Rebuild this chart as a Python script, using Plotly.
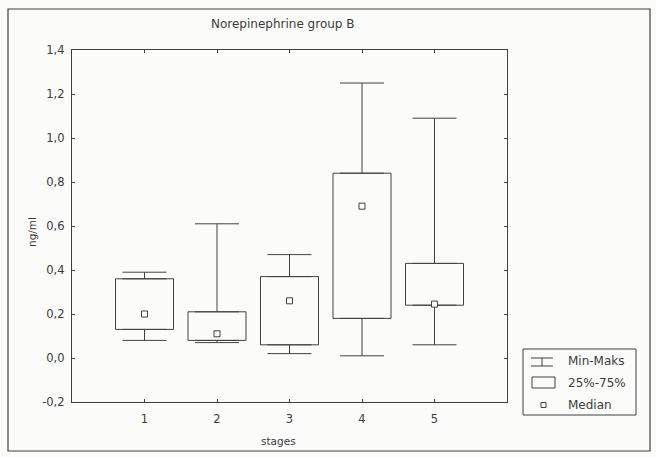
import plotly.graph_objects as go

# ---- data ----
stages = [1, 2, 3, 4, 5]
min_vals = [0.08, 0.07, 0.02, 0.01, 0.06]
q1_vals = [0.13, 0.08, 0.06, 0.18, 0.24]
median_vals = [0.20, 0.11, 0.26, 0.69, 0.245]
q3_vals = [0.36, 0.21, 0.37, 0.84, 0.43]
max_vals = [0.39, 0.61, 0.47, 1.25, 1.09]

y_tickvals = [-0.2, 0.0, 0.2, 0.4, 0.6, 0.8, 1.0, 1.2, 1.4]
y_ticktext = ["-0,2", "0,0", "0,2", "0,4", "0,6", "0,8", "1,0", "1,2", "1,4"]
x_tickvals = [1, 2, 3, 4, 5]
x_ticktext = ["1", "2", "3", "4", "5"]

title_text = "Norepinephrine group B"
x_title = "stages"
y_title = "ng/ml"
legend_labels = ["Min-Maks", "25%-75%", "Median"]

# ---- style ----
W, H = 656, 457
ML, MR, MT, MB = 72, 149, 50, 55
INK = "#404040"
TXT = "#3c3c3c"
BG = "#fbfbf9"
FONT = "DejaVu Sans, Verdana, sans-serif"

PW = W - ML - MR
PH = H - MT - MB


def px(x):
    return (x - ML) / PW


def py(y):
    return (H - MB - y) / PH


fig = go.Figure()

# boxes (25%-75%)
fig.add_trace(go.Bar(
    x=stages,
    y=[b - a for a, b in zip(q1_vals, q3_vals)],
    base=q1_vals,
    width=0.8,
    marker=dict(color="rgba(255,255,255,0)", line=dict(color=INK, width=1)),
    showlegend=False,
    hoverinfo="skip",
))

# upper whiskers (Q3 -> max)
fig.add_trace(go.Scatter(
    x=stages, y=q3_vals, mode="markers",
    marker=dict(size=1, opacity=0),
    error_y=dict(type="data", symmetric=False,
                 array=[m - q for m, q in zip(max_vals, q3_vals)],
                 arrayminus=[0] * len(stages),
                 width=22, thickness=1, color=INK),
    showlegend=False, hoverinfo="skip",
))

# lower whiskers (min <- Q1)
fig.add_trace(go.Scatter(
    x=stages, y=q1_vals, mode="markers",
    marker=dict(size=1, opacity=0),
    error_y=dict(type="data", symmetric=False,
                 array=[0] * len(stages),
                 arrayminus=[q - m for q, m in zip(q1_vals, min_vals)],
                 width=22, thickness=1, color=INK),
    showlegend=False, hoverinfo="skip",
))

# medians
fig.add_trace(go.Scatter(
    x=stages, y=median_vals, mode="markers",
    marker=dict(symbol="square", size=6, color="white",
                line=dict(color=INK, width=1)),
    showlegend=False, hoverinfo="skip",
))

shapes = []
annotations = []

# outer frame
shapes.append(dict(type="rect", xref="paper", yref="paper",
                   x0=px(8), x1=px(650), y0=py(451), y1=py(9),
                   line=dict(color=INK, width=1.2)))

# manual legend
shapes.append(dict(type="rect", xref="paper", yref="paper",
                   x0=px(523), x1=px(636), y0=py(415), y1=py(349),
                   line=dict(color=INK, width=1)))
# Min-Maks glyph
shapes.append(dict(type="line", xref="paper", yref="paper",
                   x0=px(542), x1=px(542), y0=py(366), y1=py(358),
                   line=dict(color=INK, width=1)))
shapes.append(dict(type="line", xref="paper", yref="paper",
                   x0=px(531), x1=px(553), y0=py(358), y1=py(358),
                   line=dict(color=INK, width=1)))
shapes.append(dict(type="line", xref="paper", yref="paper",
                   x0=px(531), x1=px(553), y0=py(366), y1=py(366),
                   line=dict(color=INK, width=1)))
# 25%-75% glyph
shapes.append(dict(type="rect", xref="paper", yref="paper",
                   x0=px(532), x1=px(555), y0=py(388), y1=py(377),
                   line=dict(color=INK, width=1)))
# Median glyph
shapes.append(dict(type="rect", xref="paper", yref="paper",
                   x0=px(541), x1=px(546), y0=py(407.5), y1=py(402.5),
                   line=dict(color=INK, width=1)))

for label, yy in zip(legend_labels, [361, 383, 405]):
    annotations.append(dict(text=label, xref="paper", yref="paper",
                            x=px(566), y=py(yy), xanchor="left", yanchor="middle",
                            showarrow=False, font=dict(size=12, color=TXT, family=FONT)))

# title and axis titles
annotations.append(dict(text=title_text, xref="paper", yref="paper",
                        x=px(283), y=py(24), xanchor="center", yanchor="middle",
                        showarrow=False, font=dict(size=12, color=TXT, family=FONT)))
annotations.append(dict(text=x_title, xref="paper", yref="paper",
                        x=px(278), y=py(441), xanchor="center", yanchor="middle",
                        showarrow=False, font=dict(size=10.5, color=TXT, family=FONT)))
annotations.append(dict(text=y_title, xref="paper", yref="paper",
                        x=px(32), y=py(232), xanchor="center", yanchor="middle",
                        textangle=-90,
                        showarrow=False, font=dict(size=10.5, color=TXT, family=FONT)))

fig.update_layout(
    width=W, height=H,
    margin=dict(l=ML, r=MR, t=MT, b=MB, pad=0),
    paper_bgcolor=BG, plot_bgcolor=BG,
    font=dict(family=FONT, size=11, color=TXT),
    shapes=shapes, annotations=annotations,
    showlegend=False,
    barmode="overlay",
    xaxis=dict(range=[0, 6], tickvals=x_tickvals, ticktext=x_ticktext,
               ticks="inside", ticklen=3, tickcolor=INK, tickwidth=1,
               showline=True, linecolor=INK, linewidth=1.2, mirror="allticks",
               showgrid=False, zeroline=False, fixedrange=True,
               tickfont=dict(size=11.5, color=TXT), ticklabelstandoff=6),
    yaxis=dict(range=[-0.2, 1.4], tickvals=y_tickvals, ticktext=y_ticktext,
               ticks="inside", ticklen=3, tickcolor=INK, tickwidth=1,
               showline=True, linecolor=INK, linewidth=1.2, mirror="allticks",
               showgrid=False, zeroline=False, fixedrange=True,
               tickfont=dict(size=11.5, color=TXT), ticklabelstandoff=4),
)

fig.write_html(
    "out.html",
    config={"displayModeBar": False},
    post_script="document.body.style.margin='0';document.body.style.overflow='hidden';",
)
